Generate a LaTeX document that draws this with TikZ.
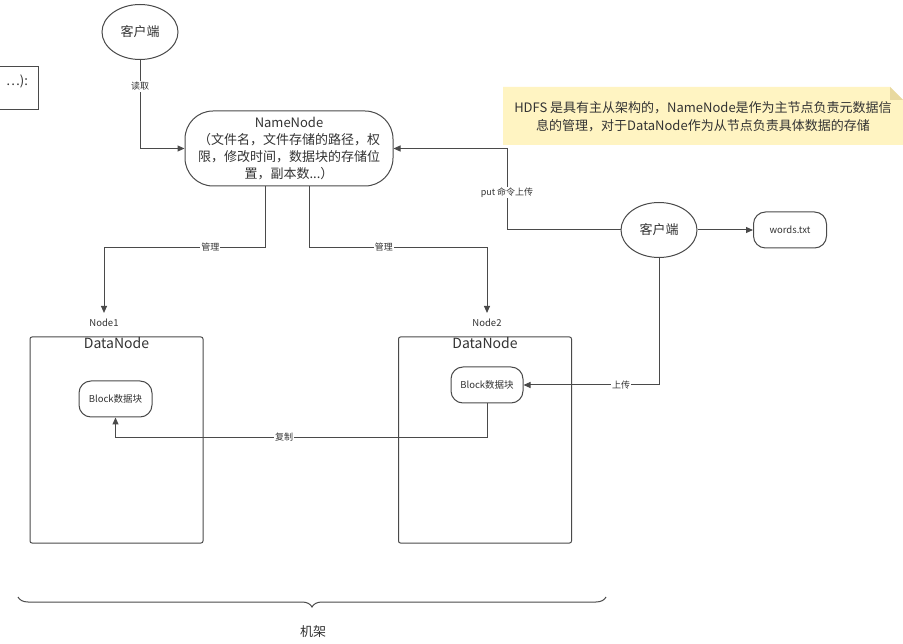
\documentclass[tikz,border=0pt]{standalone}
\usepackage{fontspec}
\setmainfont{Noto Sans CJK SC}
\usetikzlibrary{arrows.meta,shapes.geometric,decorations.pathreplacing}
\definecolor{ln}{HTML}{4A4A4A}
\definecolor{tx}{HTML}{333333}
\definecolor{noteyel}{HTML}{FFF4C2}
\definecolor{notefold}{HTML}{E8D9A0}
\tikzset{
  ln/.style={draw=ln, line width=1pt},
  arr/.style={ln, -{Triangle[length=7pt,width=6pt]}},
  ell/.style={ellipse, ln, fill=white, text=tx, minimum width=76pt, minimum height=55pt, inner sep=0pt, font=\fontsize{13}{15}\selectfont},
  pill/.style={rectangle, rounded corners=#1, ln, fill=white, text=tx, inner sep=0pt},
  lbl/.style={fill=white, text=tx, inner sep=1pt, font=\fontsize{9}{10}\selectfont},
  small/.style={text=tx, inner sep=0pt, font=\fontsize{9.5}{11}\selectfont},
  dnbox/.style={rectangle, rounded corners=2pt, ln, minimum width=173pt, minimum height=206pt, inner sep=0pt},
}
\begin{document}
\begin{tikzpicture}[x=1pt,y=-1pt]
\useasboundingbox (0,0) rectangle (903,644);
\fill[white] (0,0) rectangle (903,644);

% partial left box
\draw[ln] (-5,67) -- (38,67) -- (38,110) -- (-5,110);
\node[text=tx, font=\fontsize{13}{15}\selectfont] (frag) at (17,81) {…):};

% top client
\node[ell] (c1) at (140,32) {客户端};

% NameNode
\node[pill=28pt, minimum width=208pt, minimum height=75pt, align=center, font=\fontsize{13}{17.3}\selectfont] (nn) at (289,148.5)
  {NameNode\\（文件名，文件存储的路径，权\\限，修改时间，数据块的存储位\\置，副本数...）};

% note
\fill[noteyel] (503,87) -- (890,87) -- (903,100) -- (903,145) -- (503,145) -- cycle;
\fill[notefold] (890,87) -- (903,100) -- (890,100) -- cycle;
\node[text=tx, align=center, font=\fontsize{13}{18}\selectfont] (note) at (703,117)
  {HDFS 是具有主从架构的，NameNode是作为主节点负责元数据信\\息的管理，对于DataNode作为从节点负责具体数据的存储};

% client 2 and words
\node[ell] (c2) at (659,230) {客户端};
\node[pill=12pt, minimum width=73pt, minimum height=36pt, font=\fontsize{9.5}{11}\selectfont] (words) at (790,230) {words.txt};

% DataNode boxes
\node[small] (n1lbl) at (104,323) {Node1};
\node[small] (n2lbl) at (487,323) {Node2};
\node[dnbox] (dn1) at (116.5,440) {};
\node[dnbox] (dn2) at (485,440) {};
\node[text=tx, anchor=north, font=\fontsize{14}{16}\selectfont, inner sep=1pt] (dn1t) at (dn1.north) {DataNode};
\node[text=tx, anchor=north, font=\fontsize{14}{16}\selectfont, inner sep=1pt] (dn2t) at (dn2.north) {DataNode};
\node[pill=12pt, minimum width=73pt, minimum height=36pt, font=\fontsize{9.5}{11}\selectfont] (b1) at (115.5,399) {Block数据块};
\node[pill=12pt, minimum width=72pt, minimum height=36pt, font=\fontsize{9.5}{11}\selectfont] (b2) at (487,385) {Block数据块};

% connectors
\draw[arr] (c1.south) |- node[lbl, pos=0.15] {读取} (nn.west);
\draw[arr] ([xshift=-24pt]nn.south) -- ++(0,61) -| node[lbl, pos=0.17] {管理} ([yshift=6pt]n1lbl.north);
\draw[arr] ([xshift=20pt]nn.south) -- ++(0,61) -| node[lbl, pos=0.21] {管理} ([yshift=6pt]n2lbl.north);
\coordinate (putbend) at (507,230);
\draw[arr] (c2.west) -- (putbend) |- node[lbl, pos=0.23] {put 命令上传} (nn.east);
\draw[arr] (c2.east) -- (words.west);
\draw[arr] (c2.south) |- node[lbl, pos=0.64] {上传} (b2.east);
\draw[arr] (b2.south) -- ++(0,34) -| node[lbl, pos=0.273] {复制} (b1.south);

% brace
\coordinate (brl) at (18,597);
\coordinate (brr) at (606,597);
\draw[ln, decorate, decoration={brace, mirror, amplitude=10pt}] (brl) -- (brr);
\node[text=tx, font=\fontsize{13}{15}\selectfont] (rack) at (313,632) {机架};
\end{tikzpicture}
\end{document}
